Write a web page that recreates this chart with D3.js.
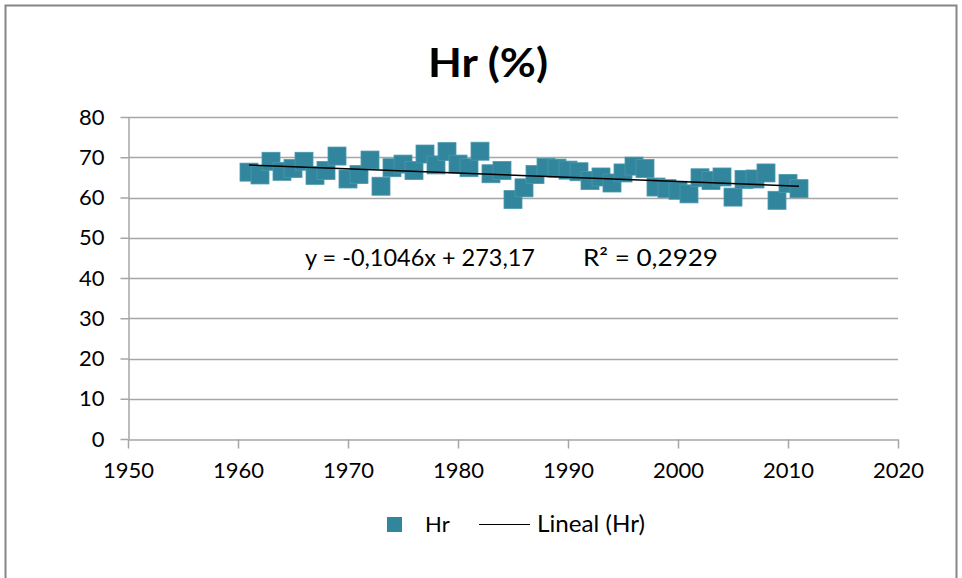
<!DOCTYPE html>
<html>
<head>
<meta charset="utf-8">
<script src="https://cdn.jsdelivr.net/npm/d3@7"></script>
<style>
  body { margin: 0; background: #fff; }
  text { font-family: Lato, "Open Sans", sans-serif; fill: #000; }
</style>
</head>
<body>
<div id="chart"></div>
<script>
var w = 962,
    h = 578;

// data
var years = [1961, 1962, 1963, 1964, 1965, 1966, 1967, 1968, 1969, 1970,
             1971, 1972, 1973, 1974, 1975, 1976, 1977, 1978, 1979, 1980,
             1981, 1982, 1983, 1984, 1985, 1986, 1987, 1988, 1989, 1990,
             1991, 1992, 1993, 1994, 1995, 1996, 1997, 1998, 1999, 2000,
             2001, 2002, 2003, 2004, 2005, 2006, 2007, 2008, 2009, 2010, 2011];
var hr = [66.3, 65.6, 69.0, 66.5, 67.2, 69.0, 65.5, 66.7, 70.3, 64.6,
          65.7, 69.3, 62.8, 67.4, 68.3, 66.7, 70.8, 68.1, 71.4, 68.3,
          67.4, 71.5, 65.9, 66.7, 59.5, 62.4, 65.7, 67.5, 67.3, 66.8,
          66.4, 64.2, 65.1, 63.6, 66.1, 67.8, 67.2, 62.6, 62.2, 61.8,
          60.9, 64.9, 64.2, 65.1, 60.1, 64.5, 64.6, 66.1, 59.3, 63.5, 62.2];
var xTicks = [1950, 1960, 1970, 1980, 1990, 2000, 2010, 2020];
var yTicks = [0, 10, 20, 30, 40, 50, 60, 70, 80];
var slope = -0.1046,
    intercept = 273.17;
var eqLabel = "y = -0,1046x + 273,17",
    r2Label = "R² = 0,2929";

var svg = d3.select("#chart").append("svg")
  .attr("width", w)
  .attr("height", h);

svg.append("rect")
  .attr("x", 5.5).attr("y", 5.5)
  .attr("width", 951).attr("height", 600)
  .attr("fill", "none")
  .attr("stroke", "#868686")
  .attr("stroke-width", 2);

var x = d3.scaleLinear().domain([1950, 2020]).range([128, 898]);
var y = d3.scaleLinear().domain([0, 80]).range([439, 117]);

// gridlines
svg.append("g")
  .selectAll("line")
  .data(yTicks.slice(1))
  .enter().append("line")
  .attr("x1", x(1950)).attr("x2", x(2020))
  .attr("y1", function(d) { return Math.round(y(d)) + 0.5; })
  .attr("y2", function(d) { return Math.round(y(d)) + 0.5; })
  .attr("stroke", "#a6a6a6")
  .attr("stroke-width", 1.5);

var xAxis = svg.append("g")
  .attr("transform", "translate(0," + (Math.round(y(0)) + 0.5) + ")")
  .call(d3.axisBottom(x).tickValues(xTicks).tickFormat(d3.format("d")).tickSize(9).tickSizeOuter(0));

var yAxis = svg.append("g")
  .attr("transform", "translate(" + (Math.round(x(1950)) + 0.5) + ",0)")
  .call(d3.axisLeft(y).tickValues(yTicks).tickSize(8).tickSizeOuter(0));

svg.selectAll(".domain, .tick line")
  .attr("stroke", "#a6a6a6")
  .attr("stroke-width", 1.5);

xAxis.selectAll("text")
  .attr("dy", "0.71em")
  .attr("y", 23)
  .style("font-size", "22px")
  .attr("fill", "#000");

yAxis.selectAll("text")
  .attr("x", -24)
  .style("font-size", "22px")
  .attr("fill", "#000");

// markers
var size = 18;
svg.append("g")
  .selectAll("rect")
  .data(years)
  .enter().append("rect")
  .attr("x", function(d) { return x(d) - size / 2; })
  .attr("y", function(d, i) { return y(hr[i]) - size / 2; })
  .attr("width", size)
  .attr("height", size)
  .attr("fill", "#31859c")
  .attr("stroke", "#4a98ad")
  .attr("stroke-width", 0.8);

// linear trend
var first = years[0], last = years[years.length - 1];
svg.append("line")
  .attr("x1", x(first)).attr("y1", y(slope * first + intercept))
  .attr("x2", x(last)).attr("y2", y(slope * last + intercept))
  .attr("stroke", "#000")
  .attr("stroke-width", 1.5);

svg.append("text")
  .attr("x", 305).attr("y", 266)
  .style("font-size", "23px")
  .attr("textLength", 230)
  .attr("lengthAdjust", "spacingAndGlyphs")
  .text(eqLabel);

svg.append("text")
  .attr("x", 583).attr("y", 266)
  .style("font-size", "23px")
  .attr("textLength", 135)
  .attr("lengthAdjust", "spacingAndGlyphs")
  .text(r2Label);

// title
svg.append("text")
  .attr("x", 488).attr("y", 77)
  .attr("text-anchor", "middle")
  .style("font-size", "40px")
  .style("font-weight", "bold")
  .attr("textLength", 120)
  .attr("lengthAdjust", "spacingAndGlyphs")
  .text("Hr (%)");

// legend
svg.append("rect")
  .attr("x", 387).attr("y", 517)
  .attr("width", 15).attr("height", 15)
  .attr("fill", "#31859c");

svg.append("text")
  .attr("x", 425).attr("y", 532)
  .style("font-size", "22px")
  .text("Hr");

svg.append("line")
  .attr("x1", 479).attr("x2", 530)
  .attr("y1", 524.5).attr("y2", 524.5)
  .attr("stroke", "#000")
  .attr("stroke-width", 1.2);

svg.append("text")
  .attr("x", 537).attr("y", 532)
  .style("font-size", "23px")
  .attr("textLength", 108)
  .attr("lengthAdjust", "spacingAndGlyphs")
  .text("Lineal (Hr)");
</script>
</body>
</html>
